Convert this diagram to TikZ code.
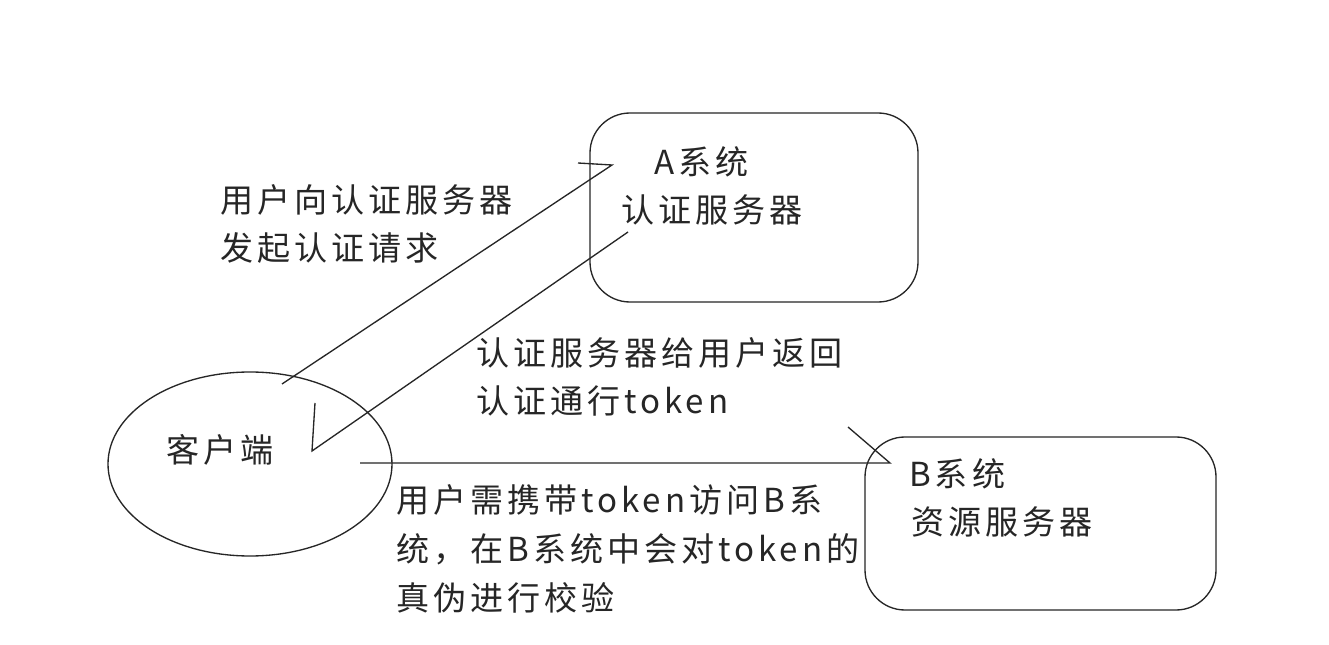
\documentclass[tikz,border=0pt]{standalone}
\usepackage{fontspec}
\setmainfont{Noto Sans CJK SC}[LetterSpace=12]
\begin{document}
\begin{tikzpicture}[x=0.75pt,y=-0.75pt,
  lbl/.style={anchor=west,inner sep=0pt,align=left,text=black!85,
    font=\fontsize{24.8}{35.5}\selectfont},
  ln/.style={line width=1pt,draw=black!85},
  boxs/.style={ln,rounded corners=30pt}]
\useasboundingbox (0,0) rectangle (1329,645);
\fill[white] (0,0) rectangle (1329,645);
% shapes
\draw[boxs] (590,113) rectangle (918,302);
\draw[boxs] (865,437) rectangle (1216,610);
\draw[ln] (250,464) ellipse [x radius=142,y radius=92];
% coordinates
\coordinate (c1s) at (282,384);
\coordinate (c1e) at (612,165);
\coordinate (c1b) at (578,163);
\coordinate (c2s) at (628,232);
\coordinate (c2e) at (312,451);
\coordinate (c2b) at (315,403);
\coordinate (c3s) at (360,463);
\coordinate (c3e) at (890,463);
\coordinate (c3b) at (848,427);
% connectors
\draw[ln] (c1s) -- (c1e) -- (c1b);
\draw[ln] (c2s) -- (c2e) -- (c2b);
\draw[ln] (c3s) -- (c3e) -- (c3b);
% labels
\node[lbl] (t1) at (220,224) {用户向认证服务器\\发起认证请求};
\node[lbl] (t2) at (654,162) {A系统};
\node[lbl] (t3) at (621,210) {认证服务器};
\node[lbl] (t4) at (476,377) {认证服务器给用户返回\\认证通行token};
\node[lbl] (t5) at (166,450) {客户端};
\node[lbl] (t6) at (909,474) {B系统};
\node[lbl] (t7) at (911,522) {资源服务器};
\node[lbl,font=\fontsize{24.8}{37}\selectfont] (t8) at (396,549) {用户需携带token访问B系\\统，在B系统中会对token的\\真伪进行校验};
\end{tikzpicture}
\end{document}
